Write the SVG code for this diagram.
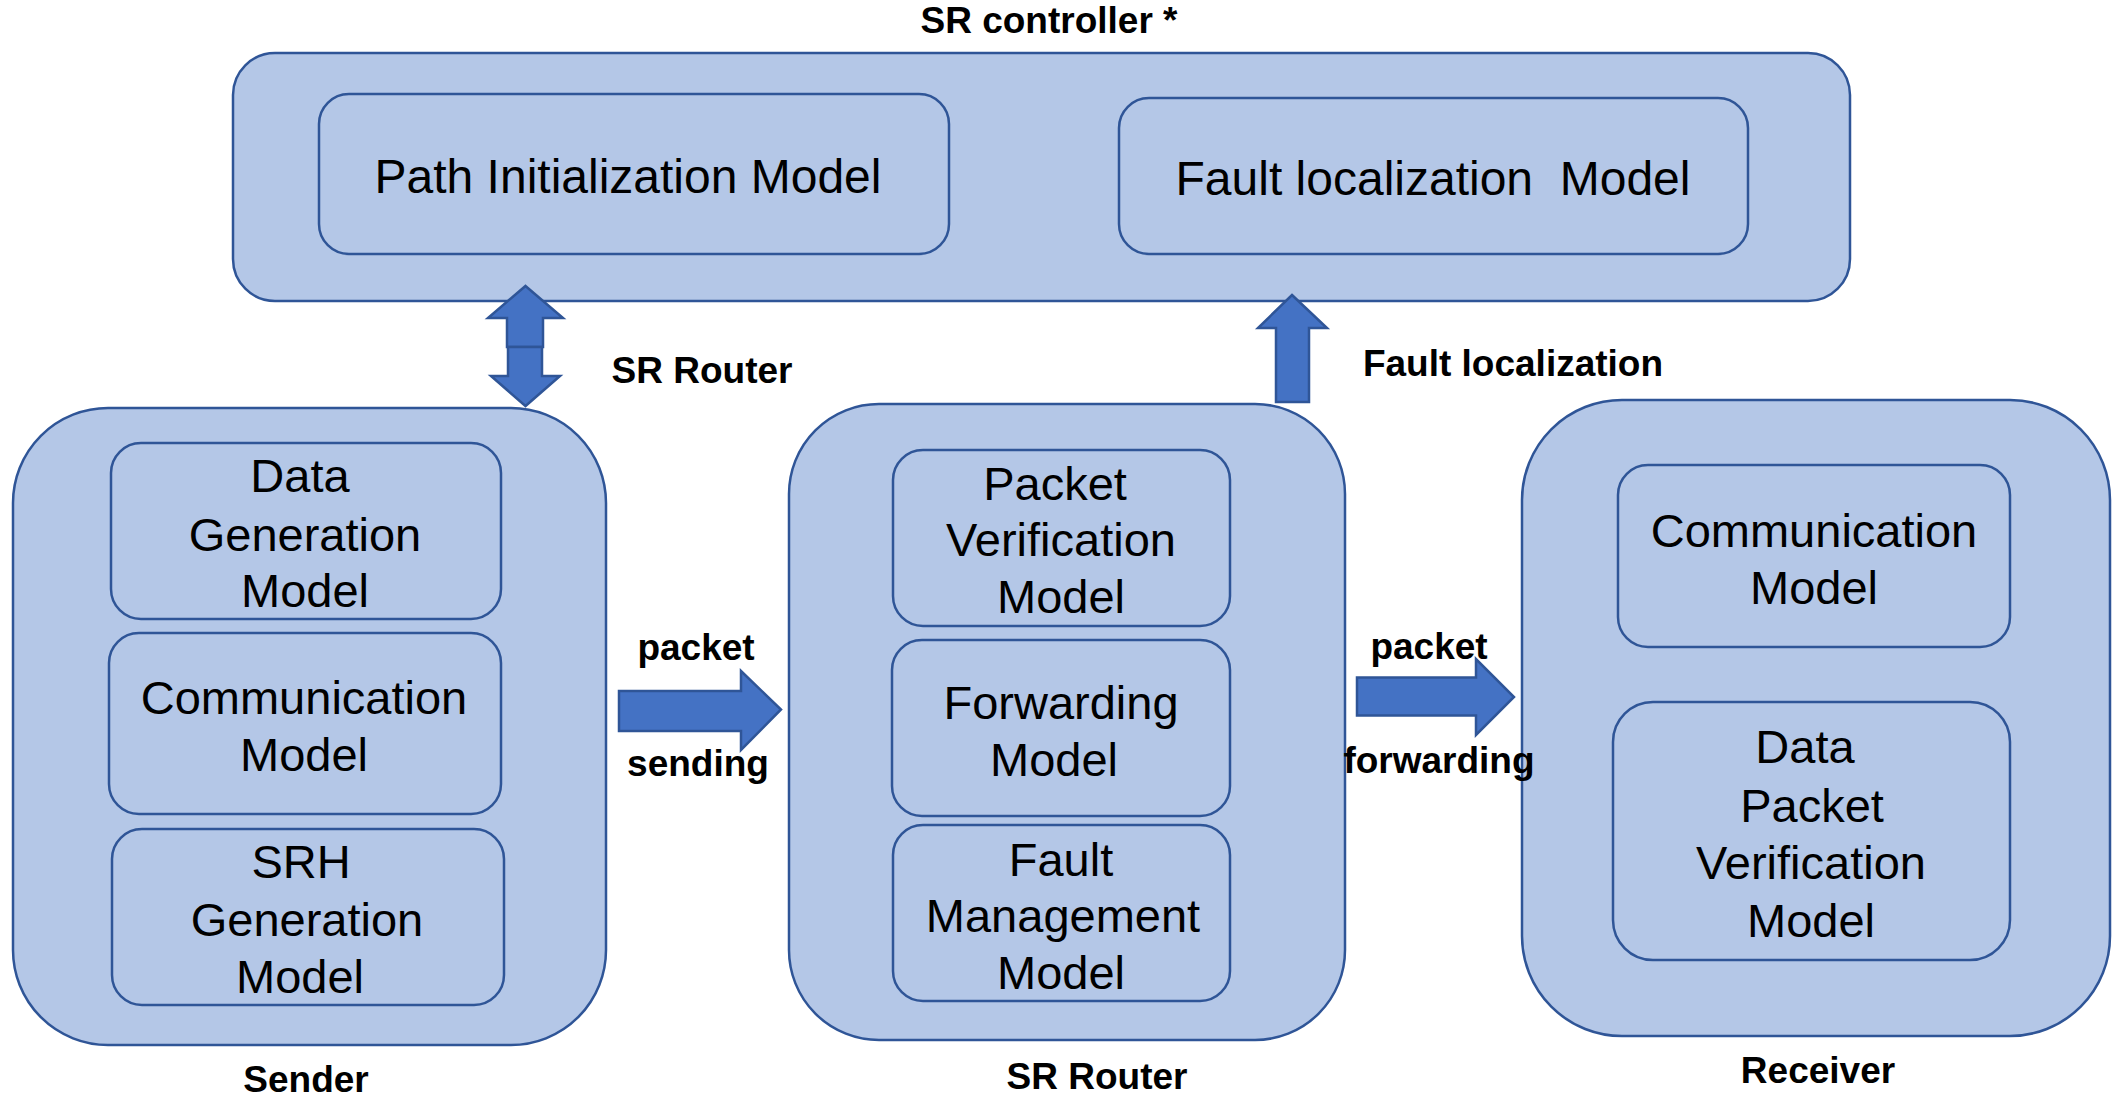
<svg xmlns="http://www.w3.org/2000/svg" width="2121" height="1099" viewBox="0 0 2121 1099">
<defs>
<style>
.outer{fill:#b4c7e7;stroke:#2f5597;stroke-width:2.5}
.inner{fill:#b4c7e7;stroke:#2f5597;stroke-width:2.5}
.arrow{fill:#4472c4;stroke:#2f5597;stroke-width:2.5;stroke-linejoin:miter}
.t{font-family:"Liberation Sans",Arial,sans-serif;font-size:47px;fill:#000;text-anchor:middle}
.tl{font-family:"Liberation Sans",Arial,sans-serif;font-size:48px;fill:#000;text-anchor:middle}
.lbl{font-family:"Liberation Sans",Arial,sans-serif;font-size:37px;font-weight:bold;fill:#000;text-anchor:middle}
</style>
</defs>
<rect width="2121" height="1099" fill="#fff"/>

<g id="controller">
<rect class="outer" x="233" y="53" width="1617" height="248" rx="42" ry="42"/>
<text class="lbl" x="1049" y="33">SR controller *</text>
</g>
<g id="path-init">
<rect class="inner" x="319" y="94" width="630" height="160" rx="30" ry="30"/>
<text class="tl" x="628" y="193">Path Initialization Model</text>
</g>
<g id="fault-loc-model">
<rect class="inner" x="1119" y="98" width="629" height="156" rx="30" ry="30"/>
<text class="tl" x="1433" y="195" xml:space="preserve">Fault localization  Model</text>
</g>

<g id="sender">
<rect class="outer" x="13" y="408" width="593" height="637" rx="95" ry="95"/>
<text class="lbl" x="306" y="1092">Sender</text>
</g>
<g id="data-gen">
<rect class="inner" x="111" y="443" width="390" height="176" rx="30" ry="30"/>
<text class="t" x="300" y="492">Data</text>
<text class="t" x="305" y="551">Generation</text>
<text class="t" x="305" y="607">Model</text>
</g>
<g id="sender-comm">
<rect class="inner" x="109" y="633" width="392" height="181" rx="30" ry="30"/>
<text class="t" x="304" y="714">Communication</text>
<text class="t" x="304" y="771">Model</text>
</g>
<g id="srh-gen">
<rect class="inner" x="112" y="829" width="392" height="176" rx="30" ry="30"/>
<text class="t" x="301" y="878">SRH</text>
<text class="t" x="307" y="936">Generation</text>
<text class="t" x="300" y="993">Model</text>
</g>

<g id="router">
<rect class="outer" x="789" y="404" width="556" height="636" rx="90" ry="90"/>
<text class="lbl" x="1097" y="1089">SR Router</text>
</g>
<g id="packet-verif">
<rect class="inner" x="893" y="450" width="337" height="176" rx="30" ry="30"/>
<text class="t" x="1055" y="500">Packet</text>
<text class="t" x="1061" y="556">Verification</text>
<text class="t" x="1061" y="613">Model</text>
</g>
<g id="forwarding">
<rect class="inner" x="892" y="640" width="338" height="176" rx="30" ry="30"/>
<text class="t" x="1061" y="719">Forwarding</text>
<text class="t" x="1054" y="776">Model</text>
</g>
<g id="fault-mgmt">
<rect class="inner" x="893" y="825" width="337" height="176" rx="30" ry="30"/>
<text class="t" x="1061" y="876">Fault</text>
<text class="t" x="1063" y="932">Management</text>
<text class="t" x="1061" y="989">Model</text>
</g>

<g id="receiver">
<rect class="outer" x="1522" y="400" width="588" height="636" rx="100" ry="100"/>
<text class="lbl" x="1818" y="1083">Receiver</text>
</g>
<g id="receiver-comm">
<rect class="inner" x="1618" y="465" width="392" height="182" rx="30" ry="30"/>
<text class="t" x="1814" y="547">Communication</text>
<text class="t" x="1814" y="604">Model</text>
</g>
<g id="data-packet-verif">
<rect class="inner" x="1613" y="702" width="397" height="258" rx="40" ry="40"/>
<text class="t" x="1805" y="763">Data</text>
<text class="t" x="1812" y="822">Packet</text>
<text class="t" x="1811" y="879">Verification</text>
<text class="t" x="1811" y="937">Model</text>
</g>

<g id="connectors">
<polygon class="arrow" points="525.5,286 563,318 543,318 543,347 507,347 507,318 488,318"/>
<polygon class="arrow" points="508,347 542,347 542,376 560,376 525.5,406 491,376 508,376"/>
<text class="lbl" x="702" y="383">SR Router</text>
<polygon class="arrow" points="1292,295 1327,328 1309,328 1309,402 1276,402 1276,328 1258,328"/>
<text class="lbl" x="1513" y="376">Fault localization</text>
<polygon class="arrow" points="619,691 741,691 741,671 781,709.5 741,750 741,731 619,731"/>
<text class="lbl" x="696" y="660">packet</text>
<text class="lbl" x="698" y="776">sending</text>
<polygon class="arrow" points="1357,677.5 1476,677.5 1476,659 1514,697 1476,735 1476,715.5 1357,715.5"/>
<text class="lbl" x="1429" y="659">packet</text>
<text class="lbl" x="1439" y="773">forwarding</text>
</g>
</svg>
